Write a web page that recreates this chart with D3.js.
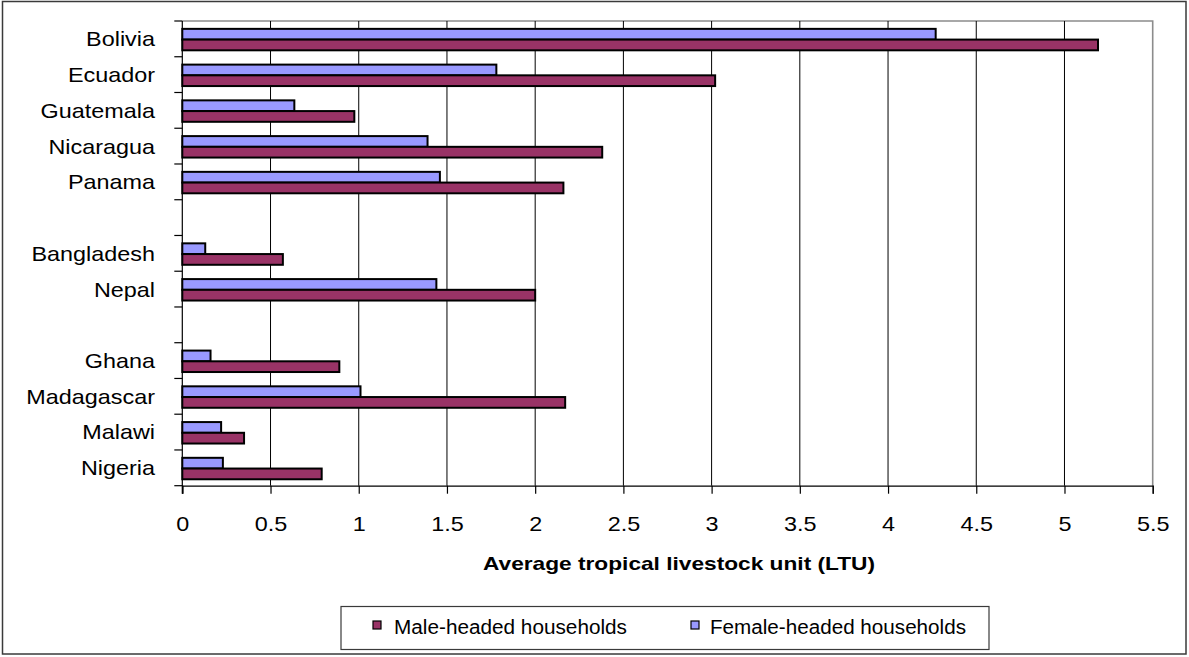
<!DOCTYPE html>
<html>
<head>
<meta charset="utf-8">
<script src="https://cdn.jsdelivr.net/npm/d3@7"></script>
<style>
  html, body { margin: 0; padding: 0; background: #fff; }
  svg { display: block; font-family: "Liberation Sans", Arial, sans-serif; }
</style>
</head>
<body>
<svg id="chart" width="1189" height="657"></svg>
<script>
// Countries grouped by region; empty strings are spacer rows between regions.
const categories = ["Bolivia", "Ecuador", "Guatemala", "Nicaragua", "Panama", "",
                    "Bangladesh", "Nepal", "",
                    "Ghana", "Madagascar", "Malawi", "Nigeria"];
const maleValues   = [5.19, 3.02, 0.975, 2.38, 2.16, null, 0.57, 2.0, null, 0.89, 2.17, 0.35, 0.79];
const femaleValues = [4.27, 1.78, 0.635, 1.39, 1.46, null, 0.13, 1.44, null, 0.16, 1.01, 0.22, 0.23];
const seriesNames  = ["Male-headed households", "Female-headed households"];
const tickValues   = [0, 0.5, 1, 1.5, 2, 2.5, 3, 3.5, 4, 4.5, 5, 5.5];
const tickLabels   = ["0", "0.5", "1", "1.5", "2", "2.5", "3", "3.5", "4", "4.5", "5", "5.5"];
const axisTitle    = "Average tropical livestock unit (LTU)";

const COLORS = { male: "#993366", female: "#9999FF" };
const STRETCH = 1.17;   // horizontal widening of the label glyphs
const LABEL_SIZE = 20;

const svg = d3.select("#chart");
const plot = { left: 182.3, right: 1152.7, top: 21, bottom: 485.7 };

// Outer frame
svg.append("rect")
  .attr("x", 2.5).attr("y", 1.5).attr("width", 1183.5).attr("height", 652.5)
  .attr("fill", "#fff").attr("stroke", "#3a3a3a").attr("stroke-width", 1.5);

const x = d3.scaleLinear().domain([0, 5.5]).range([plot.left, plot.right]);
const idx = d3.range(categories.length);
const y = d3.scaleBand().domain(idx).range([plot.top, plot.bottom]).padding(0);
const step = y.step();
const ySub = d3.scaleBand().domain(["female", "male"]).range([step * 0.22, step * 0.82]).padding(0);

// Plot-area border (top and right in grey)
svg.append("path")
  .attr("d", `M${plot.left},${plot.top}H${plot.right}V${plot.bottom}`)
  .attr("fill", "none").attr("stroke", "#8c8c8c").attr("stroke-width", 1.6);

// Vertical gridlines
svg.append("g").selectAll("line")
  .data(tickValues.filter(v => v > 0 && v < 5.5))
  .join("line")
  .attr("x1", d => x(d)).attr("x2", d => x(d))
  .attr("y1", plot.top).attr("y2", plot.bottom)
  .attr("stroke", "#000").attr("stroke-width", 1);

// Bars
const rows = idx.filter(i => categories[i] !== "").map(i => ({
  i, name: categories[i], male: maleValues[i], female: femaleValues[i]
}));
const barG = svg.append("g");
["female", "male"].forEach(key => {
  barG.selectAll("rect." + key)
    .data(rows)
    .join("rect")
    .attr("class", key)
    .attr("x", x(0))
    .attr("y", d => y(d.i) + ySub(key))
    .attr("width", d => x(d[key]) - x(0))
    .attr("height", ySub.bandwidth())
    .attr("fill", COLORS[key])
    .attr("stroke", "#000").attr("stroke-width", 2);
});

// Left axis: line, boundary ticks and category labels
const leftAxis = svg.append("g");
leftAxis.append("line")
  .attr("x1", plot.left).attr("x2", plot.left)
  .attr("y1", plot.top).attr("y2", plot.bottom + 8)
  .attr("stroke", "#000").attr("stroke-width", 1.2);
leftAxis.selectAll("line.tick")
  .data(d3.range(categories.length + 1))
  .join("line")
  .attr("class", "tick")
  .attr("x1", plot.left - 8).attr("x2", plot.left)
  .attr("y1", d => plot.top + d * step).attr("y2", d => plot.top + d * step)
  .attr("stroke", "#000").attr("stroke-width", 1.2);
leftAxis.selectAll("text")
  .data(rows)
  .join("text")
  .attr("transform", d => `translate(155,${y(d.i) + step / 2}) scale(${STRETCH},1)`)
  .attr("dy", "0.37em")
  .attr("text-anchor", "end")
  .attr("font-size", LABEL_SIZE)
  .attr("fill", "#000")
  .text(d => d.name);

// Bottom axis
const bottomAxis = svg.append("g")
  .attr("transform", `translate(0,${plot.bottom})`)
  .call(d3.axisBottom(x).tickValues(tickValues).tickSize(8)
        .tickFormat((d, i) => tickLabels[i]));
bottomAxis.select(".domain").attr("stroke", "#000").attr("stroke-width", 1.2);
bottomAxis.selectAll(".tick line").attr("stroke", "#000").attr("stroke-width", 1.2);
bottomAxis.selectAll(".tick text")
  .attr("y", 31)
  .attr("font-size", LABEL_SIZE)
  .attr("font-family", "Liberation Sans, Arial, sans-serif")
  .attr("fill", "#000")
  .attr("transform", `scale(${STRETCH},1)`);

// Axis title
svg.append("text")
  .attr("x", 483).attr("y", 570)
  .attr("font-size", 18.5).attr("font-weight", "bold")
  .attr("textLength", 392).attr("lengthAdjust", "spacingAndGlyphs")
  .attr("fill", "#000")
  .text(axisTitle);

// Legend
const legend = svg.append("g");
legend.append("rect")
  .attr("x", 341).attr("y", 606.5).attr("width", 648).attr("height", 43)
  .attr("fill", "#fff").attr("stroke", "#3a3a3a").attr("stroke-width", 1.2);
const legendItems = [
  { name: seriesNames[0], color: COLORS.male,   sx: 373, tx: 394, len: 233 },
  { name: seriesNames[1], color: COLORS.female, sx: 691, tx: 710, len: 256 }
];
legendItems.forEach(it => {
  legend.append("rect")
    .attr("x", it.sx).attr("y", 621).attr("width", 8).attr("height", 8)
    .attr("fill", it.color).attr("stroke", "#000").attr("stroke-width", 1.2);
  legend.append("text")
    .attr("x", it.tx).attr("y", 634)
    .attr("font-size", 19.5)
    .attr("textLength", it.len).attr("lengthAdjust", "spacingAndGlyphs")
    .attr("fill", "#000")
    .text(it.name);
});
</script>
</body>
</html>
